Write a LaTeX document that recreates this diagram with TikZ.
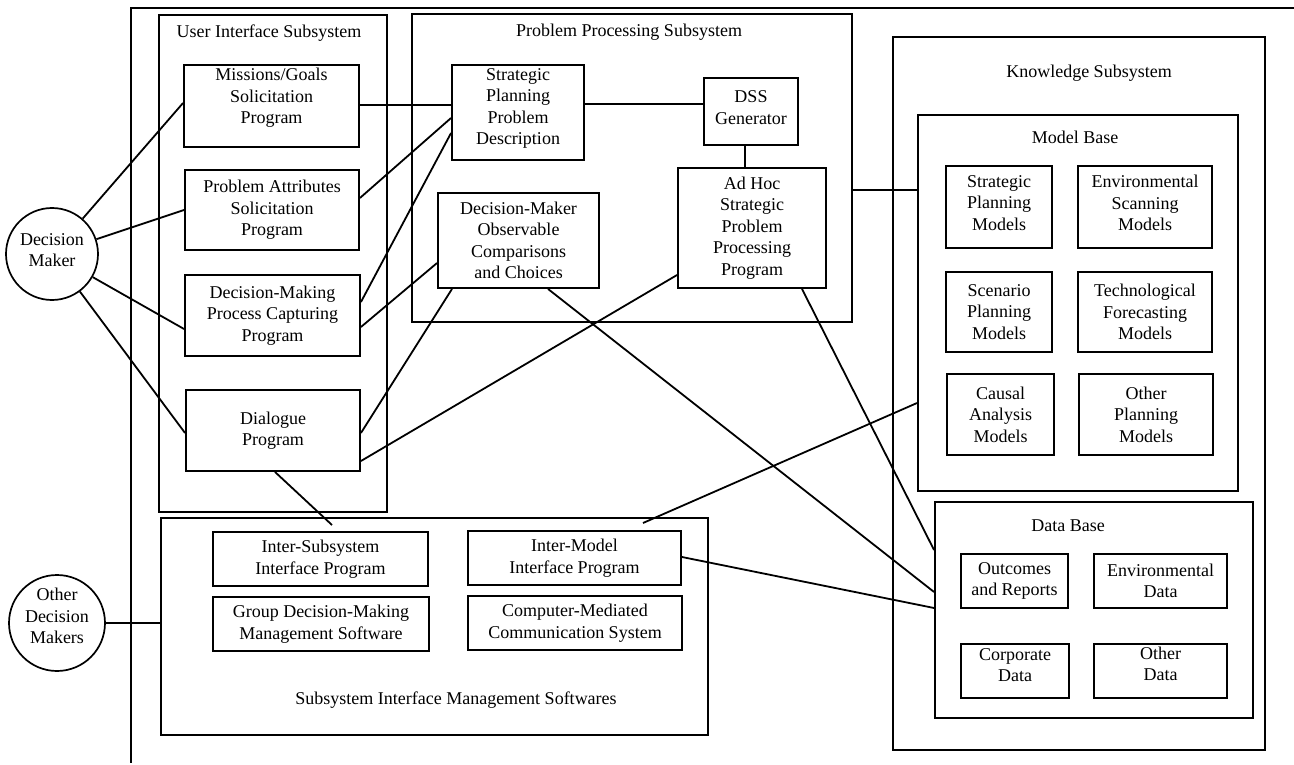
\documentclass[tikz,border=0pt]{standalone}
\usepackage{fontspec}
\setmainfont{Liberation Serif}
\begin{document}
\begin{tikzpicture}[x=1pt,y=-1pt,
  every node/.style={font=\fontsize{18}{21.5}\selectfont},
  frame/.style={draw, line width=1.9pt},
  box/.style={draw, line width=1.9pt, rectangle, inner sep=0pt, align=center},
  wh/.style 2 args={minimum width=#1, minimum height=#2},
  textlift/.style={text depth=#1},
  person/.style={draw, line width=1.7pt, circle, inner sep=0pt, align=center},
  title/.style={inner sep=0pt},
  link/.style={line width=1.8pt}]

% page
\path[fill=white, use as bounding box] (0,0) rectangle (1294,765);

% open outer frame of the DSS
\coordinate (ftr) at (1294,8);
\coordinate (ftl) at (131,8);
\coordinate (fbl) at (131,763);
\draw[frame] (ftr) -- (ftl) -- (fbl);

% decision makers
\node[person, minimum size=92, text height=26pt] (dm) at (52,254) {Decision\\Maker};
\node[person, minimum size=96, text depth=14pt] (odm) at (57,623) {Other\\Decision\\Makers};

% user interface subsystem
\node[box, wh={228}{497}] (ui) at (273,263.5) {};
\node[title] (uit) at (269,33) {User Interface Subsystem};
\node[box, wh={175}{82}, textlift=20pt] (mis) at (271.5,106) {Missions/Goals\\Solicitation\\Program};
\node[box, wh={174}{80}] (pa) at (272,210) {Problem Attributes\\Solicitation\\Program};
\node[box, wh={175}{81}] (dmpc) at (272.5,315.5) {Decision-Making\\Process Capturing\\Program};
\node[box, wh={174}{81}] (dia) at (273,430.5) {Dialogue\\Program};

% problem processing subsystem
\node[box, wh={440}{308}] (pps) at (632,168) {};
\node[title] (ppt) at (629,32) {Problem Processing Subsystem};
\node[box, wh={132}{95}, textlift=12pt] (sppd) at (518,112.5) {Strategic\\Planning\\Problem\\Description};
\node[box, wh={94}{67}, textlift=8pt] (dss) at (751,111.5) {DSS\\Generator};
\node[box, wh={148}{120}] (adhoc) at (752,228) {Ad Hoc\\Strategic\\Problem\\Processing\\Program};
\node[box, wh={161}{95}] (dmocc) at (518.5,240.5) {Decision-Maker\\Observable\\Comparisons\\and Choices};

% knowledge subsystem
\node[box, wh={372}{713}] (ks) at (1079,393.5) {};
\node[title] (kst) at (1089,73) {Knowledge Subsystem};
\node[box, wh={320}{376}] (mb) at (1078,303) {};
\node[title] (mbt) at (1075,137) {Model Base};
\node[box, wh={106}{82}, textlift=8pt] (spm) at (999,207) {Strategic\\Planning\\Models};
\node[box, wh={134}{82}, textlift=8pt] (esm) at (1145,207) {Environmental\\Scanning\\Models};
\node[box, wh={106}{80}] (scn) at (999,312) {Scenario\\Planning\\Models};
\node[box, wh={134}{80}] (tfm) at (1145,312) {Technological\\Forecasting\\Models};
\node[box, wh={107}{81}] (cam) at (1000.5,414.5) {Causal\\Analysis\\Models};
\node[box, wh={134}{81}] (opm) at (1146,414.5) {Other\\Planning\\Models};
\node[box, wh={318}{216}] (db) at (1094,610) {};
\node[title] (dbt) at (1068,526) {Data Base};
\node[box, wh={107}{54}] (out) at (1014.5,581) {Outcomes\\and Reports};
\node[box, wh={133}{54}] (env) at (1160.5,581) {Environmental\\Data};
\node[box, wh={108}{54}, textlift=12pt] (corp) at (1015,671) {Corporate\\Data};
\node[box, wh={133}{54}, textlift=14pt] (oth) at (1160.5,671) {Other\\Data};

% subsystem interface management
\node[box, wh={547}{217}] (sim) at (434.5,626.5) {};
\node[title] (simt) at (456,700) {Subsystem Interface Management Softwares};
\node[box, wh={215}{54}] (isip) at (320.5,559) {Inter-Subsystem\\Interface Program};
\node[box, wh={216}{54}] (gdm) at (321,624) {Group Decision-Making\\Management Software};
\node[box, wh={213}{54}] (imip) at (574.5,558) {Inter-Model\\Interface Program};
\node[box, wh={214}{54}] (cmcs) at (575,623) {Computer-Mediated\\Communication System};

% loose ends inside the interface box
\coordinate (diaend) at (332,525);
\coordinate (mbend) at (643,523);

% decision maker to the user interface
\draw[link] (dm) -- ([yshift=3pt]mis.west);
\draw[link] (dm) -- (pa.west);
\draw[link] (dm) -- ([yshift=-13.5pt]dmpc.west);
\draw[link] (dm) -- ([yshift=-2.5pt]dia.west);
\draw[link] (odm.east) -- (odm -| sim.west);

% user interface to problem processing
\draw[link] ([yshift=1pt]mis.east) -- ([yshift=7.5pt]sppd.west);
\draw[link] ([yshift=12pt]pa.east) -- ([yshift=-5.5pt]sppd.west);
\draw[link] ([yshift=13.5pt]dmpc.east) -- ([yshift=-20.5pt]sppd.west);
\draw[link] ([yshift=-11.5pt]dmpc.east) -- ([yshift=-22.5pt]dmocc.west);
\draw[link] ([yshift=-2.5pt]dia.east) -- ([xshift=-66.5pt]dmocc.south);
\draw[link] ([yshift=-30.5pt]dia.east) -- ([yshift=-47pt]adhoc.west);
\draw[link] ([xshift=2pt]dia.south) -- (diaend);

% inside problem processing
\draw[link] ([yshift=8.5pt]sppd.east) -- ([yshift=7.5pt]dss.west);
\draw[link] ([xshift=-6pt]dss.south) -- ([xshift=-7pt]adhoc.north);

% to the knowledge subsystem
\draw[link] ([yshift=-22pt]pps.east) -- ([yshift=113pt]mb.west);
\draw[link] ([xshift=29.5pt]dmocc.south) -- ([yshift=18pt]db.west);
\draw[link] ([xshift=50pt]adhoc.south) -- ([yshift=60pt]db.west);
\draw[link] ([yshift=1pt]imip.east) -- ([yshift=2pt]db.west);
\draw[link] ([yshift=-100pt]mb.west) -- (mbend);

\end{tikzpicture}
\end{document}
